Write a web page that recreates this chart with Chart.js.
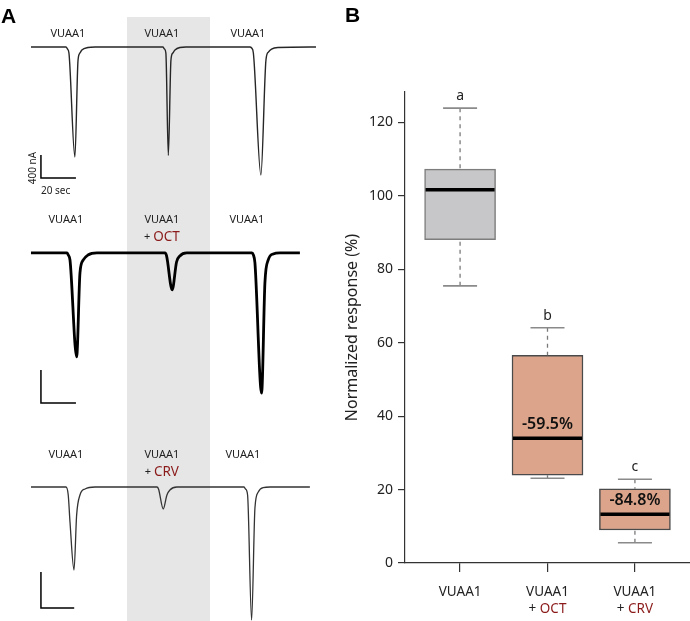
<!DOCTYPE html>
<html lang="en">
<head>
  <meta charset="UTF-8" />
  <title>VUAA1 responses with OCT and CRV</title>
  <script src="https://cdn.jsdelivr.net/npm/chart.js@4"></script>
  <style>
    body { margin: 0; background: #fff; font-family: 'Noto Sans', sans-serif; }
    #fig { position: relative; width: 690px; height: 621px; overflow: hidden; }
    #fig canvas { position: absolute; }
    .panel-letter { position: absolute; font: bold 21px 'Liberation Sans', Arial, sans-serif; color: #000; line-height: 1; }
  </style>
</head>
<body>
  <div id="fig">
    <!-- A: example recordings, one canvas per row -->
    <canvas id="rowVuaa" width="330" height="200" style="left:0px;top:0px"></canvas>
    <canvas id="rowOct" width="330" height="210" style="left:0px;top:200px"></canvas>
    <canvas id="rowCrv" width="330" height="211" style="left:0px;top:410px"></canvas>
    <!-- B: boxplot -->
    <canvas id="boxes" width="360" height="621" style="left:330px;top:0px"></canvas>
    <div class="panel-letter" style="left:1px;top:5px">A</div>
    <div class="panel-letter" style="left:345px;top:4px">B</div>
  </div>

  <script>
    const FONT = "'Noto Sans', sans-serif";
    const DARK_RED = '#8b1a1a';

    // ---- panel A data: time (s) vs current (nA), relative to baseline ----
    const traceVuaa = [
      [0, 0], [20.0, 0], [20.9, -35], [21.7, -104], [25.1, -1914], [26.9, -226], [28.0, -104], [29.1, -52], [32.6, -9], [36.6, 0],
      [75.4, 0], [76.3, -35], [77.1, -104], [78.5, -1888], [80.0, -226], [81.1, -104], [82.3, -52], [85.1, -9], [88.6, 0],
      [125.1, 0], [126.1, -17], [127.1, -104], [131.4, -2227], [134.3, -226], [135.7, -87], [137.5, -35], [141.1, -9], [162.9, 0]
    ];
    const traceOct = [
      [0, 0], [20.6, 0], [21.3, -24], [22.3, -85], [26.1, -1260], [28.0, -242], [29.9, -85], [32.6, -24], [37.7, 0],
      [76.6, 0], [77.5, -36], [80.7, -448], [83.2, -109], [85.1, -36], [89.0, 0],
      [126.3, 0], [127.1, -24], [128.0, -121], [131.8, -1697], [133.7, -364], [135.6, -85], [138.4, -12], [142.3, 0], [153.7, 0]
    ];
    const traceCrv = [
      [0, 0], [20.0, 0], [21.3, -89], [22.3, -389], [24.6, -922], [26.1, -311], [28.0, -89], [30.9, -22], [36.6, 0],
      [72.0, 0], [72.9, -22], [75.6, -244], [77.7, -89], [79.4, -33], [83.4, 0],
      [121.7, 0], [122.6, -22], [123.8, -89], [126.1, -1480], [128.0, -233], [129.9, -56], [132.7, -6], [136.6, 0], [159.4, 0]
    ];
    const shadeSec = [54.9, 102.3];
    const scaleBarSec = [20, 20, 19];
    const scaleBarNA = [400, 400, 400];

    // ---- panel B data ----
    const groups = ['VUAA1', 'VUAA1', 'VUAA1'];
    const addedOdor = ['', 'OCT', 'CRV'];
    const whiskerLow = [75.5, 23.1, 5.5];
    const q1 = [88.1, 23.9, 9.0];
    const medians = [101.7, 34.0, 13.3];
    const q3 = [107.3, 56.6, 20.2];
    const whiskerHigh = [123.9, 64.1, 22.8];
    const sigLetters = ['a', 'b', 'c'];
    const changeLabels = ['', '-59.5%', '-84.8%'];

    // layout for the three trace rows (pixel scales picked to match the figure)
    const rows = [
      { id: 'rowVuaa', data: traceVuaa, yMin: -2662, yMax: 818, color: '#262626', width: 1.4, shadeTop: 522,
        bar: { t: 5.7, i: -2279 }, labelY: 226, labelT: [21.1, 74.8, 124.0], odor: null, barText: true },
      { id: 'rowOct', data: traceOct, yMin: -1903, yMax: 642, color: '#000', width: 2.8, shadeTop: null,
        bar: { t: 5.7, i: -1818 }, labelY: 400, labelT: [20.0, 74.8, 123.4], odor: { text: 'OCT', y: 194 }, barText: false },
      { id: 'rowCrv', data: traceCrv, yMin: -1489, yMax: 856, color: '#333', width: 1.3, shadeTop: null,
        bar: { t: 5.7, i: -1344 }, labelY: 356, labelT: [20.0, 74.8, 121.1], odor: { text: 'CRV', y: 167 }, barText: false }
    ];

    const traceDecor = {
      id: 'traceDecor',
      beforeDatasetsDraw(chart, args, opts) {
        const { ctx, chartArea, scales: { x, y } } = chart;
        const left = x.getPixelForValue(shadeSec[0]);
        const right = x.getPixelForValue(shadeSec[1]);
        const top = opts.shadeTop == null ? chartArea.top : y.getPixelForValue(opts.shadeTop);
        ctx.save();
        ctx.fillStyle = '#e6e6e6';
        ctx.fillRect(left, top, right - left, chartArea.bottom - top);
        ctx.restore();
      },
      afterDatasetsDraw(chart, args, opts) {
        const { ctx, scales: { x, y } } = chart;
        ctx.save();
        ctx.fillStyle = '#222';
        ctx.textAlign = 'center';
        ctx.textBaseline = 'middle';
        ctx.font = `11px ${FONT}`;
        opts.labelT.forEach(t => ctx.fillText('VUAA1', x.getPixelForValue(t), y.getPixelForValue(opts.labelY)));
        if (opts.odor) {
          const cx = x.getPixelForValue(opts.labelT[1]);
          const cy = y.getPixelForValue(opts.odor.y);
          ctx.font = `11px ${FONT}`;
          const plusW = ctx.measureText('+ ').width;
          ctx.font = `13.5px ${FONT}`;
          const odorW = ctx.measureText(opts.odor.text).width;
          let sx = cx - (plusW + odorW) / 2;
          ctx.textAlign = 'left';
          ctx.font = `11px ${FONT}`;
          ctx.fillStyle = '#222';
          ctx.fillText('+ ', sx, cy);
          ctx.font = `13.5px ${FONT}`;
          ctx.fillStyle = DARK_RED;
          ctx.fillText(opts.odor.text, sx + plusW, cy);
        }
        if (opts.barText) {
          const bx = x.getPixelForValue(opts.bar.t);
          const by = y.getPixelForValue(opts.bar.i);
          ctx.fillStyle = '#222';
          ctx.font = `10px ${FONT}`;
          ctx.textAlign = 'left';
          ctx.fillText('20 sec', bx, by + 13);
          ctx.translate(bx - 8, by - 10);
          ctx.rotate(-Math.PI / 2);
          ctx.textAlign = 'center';
          ctx.fillText('400 nA', 0, 0);
        }
        ctx.restore();
      }
    };

    rows.forEach((row, r) => {
      const b = row.bar;
      new Chart(document.getElementById(row.id), {
        type: 'line',
        data: {
          datasets: [
            {
              data: row.data.map(([t, i]) => ({ x: t, y: i })),
              borderColor: row.color,
              borderWidth: row.width,
              pointRadius: 0,
              cubicInterpolationMode: 'monotone',
              fill: false
            },
            {
              data: [
                { x: b.t, y: b.i + scaleBarNA[r] },
                { x: b.t, y: b.i },
                { x: b.t + scaleBarSec[r], y: b.i }
              ],
              borderColor: '#000',
              borderWidth: 1.5,
              pointRadius: 0,
              tension: 0,
              fill: false
            }
          ]
        },
        options: {
          responsive: false,
          animation: false,
          layout: { padding: 0 },
          plugins: {
            legend: { display: false },
            tooltip: { enabled: false },
            traceDecor: row
          },
          scales: {
            x: { type: 'linear', min: -17.7, max: 170.9, display: false },
            y: { type: 'linear', min: row.yMin, max: row.yMax, display: false }
          }
        },
        plugins: [traceDecor]
      });
    });

    // ---- panel B ----
    const BOX_W = 71;
    const CAP_W = 34;

    const boxDecor = {
      id: 'boxDecor',
      afterDatasetsDraw(chart) {
        const { ctx, chartArea, scales: { x, y } } = chart;
        ctx.save();
        groups.forEach((g, i) => {
          const cx = x.getPixelForValue(i);
          const yHi = y.getPixelForValue(whiskerHigh[i]);
          const yLo = y.getPixelForValue(whiskerLow[i]);

          ctx.strokeStyle = '#7a7a7a';
          ctx.lineWidth = 1.3;
          ctx.setLineDash([4, 4]);
          ctx.beginPath();
          ctx.moveTo(cx, yHi);
          ctx.lineTo(cx, y.getPixelForValue(q3[i]));
          ctx.moveTo(cx, yLo);
          ctx.lineTo(cx, y.getPixelForValue(q1[i]));
          ctx.stroke();
          ctx.setLineDash([]);

          ctx.strokeStyle = '#8a8a8a';
          ctx.lineWidth = 1.6;
          ctx.beginPath();
          ctx.moveTo(cx - CAP_W / 2, yHi);
          ctx.lineTo(cx + CAP_W / 2, yHi);
          ctx.moveTo(cx - CAP_W / 2, yLo);
          ctx.lineTo(cx + CAP_W / 2, yLo);
          ctx.stroke();

          const ym = y.getPixelForValue(medians[i]);
          ctx.strokeStyle = '#000';
          ctx.lineWidth = 3.5;
          ctx.beginPath();
          ctx.moveTo(cx - BOX_W / 2 + 1, ym);
          ctx.lineTo(cx + BOX_W / 2 - 1, ym);
          ctx.stroke();

          ctx.fillStyle = '#222';
          ctx.font = `14px ${FONT}`;
          ctx.textAlign = 'center';
          ctx.textBaseline = 'alphabetic';
          ctx.fillText(sigLetters[i], cx, yHi - 8);

          if (changeLabels[i]) {
            ctx.fillStyle = '#111';
            ctx.font = `600 16px ${FONT}`;
            ctx.textBaseline = 'middle';
            ctx.fillText(changeLabels[i], cx, ym - 14);
          }
        });

        // category labels, second line with the added odorant in red
        ctx.textBaseline = 'middle';
        groups.forEach((g, i) => {
          const cx = x.getPixelForValue(i);
          ctx.font = `13.5px ${FONT}`;
          ctx.fillStyle = '#222';
          ctx.textAlign = 'center';
          ctx.fillText(g, cx, chartArea.bottom + 29);
          if (addedOdor[i]) {
            const plusW = ctx.measureText('+ ').width;
            const odorW = ctx.measureText(addedOdor[i]).width;
            const sx = cx - (plusW + odorW) / 2;
            ctx.textAlign = 'left';
            ctx.fillText('+ ', sx, chartArea.bottom + 46);
            ctx.fillStyle = DARK_RED;
            ctx.fillText(addedOdor[i], sx + plusW, chartArea.bottom + 46);
          }
        });
        ctx.restore();
      }
    };

    new Chart(document.getElementById('boxes'), {
      type: 'bar',
      data: {
        datasets: [{
          data: groups.map((g, i) => ({ x: i, y: [q1[i], q3[i]] })),
          backgroundColor: ['#c7c7c9', '#dca58b', '#dca58b'],
          borderColor: ['#7d7d7d', '#4a4a4a', '#4a4a4a'],
          borderWidth: 1.5,
          borderSkipped: false,
          barThickness: BOX_W
        }]
      },
      options: {
        responsive: false,
        animation: false,
        layout: { padding: { top: 92, left: 0, right: 0, bottom: 0 } },
        plugins: { legend: { display: false }, tooltip: { enabled: false } },
        scales: {
          x: {
            type: 'linear',
            min: -0.63,
            max: 2.63,
            offset: false,
            afterBuildTicks: s => { s.ticks = groups.map((g, i) => ({ value: i })); },
            afterFit: s => { s.height = 58; },
            ticks: { display: false },
            grid: { offset: false, drawOnChartArea: false, tickLength: 9, color: '#333', lineWidth: 1.2 },
            border: { color: '#333', width: 1.2 }
          },
          y: {
            min: 0,
            max: 128.3,
            afterFit: s => { s.width = 75; },
            ticks: { stepSize: 20, includeBounds: false, color: '#222', font: { family: FONT, size: 14 }, padding: 5 },
            grid: { drawOnChartArea: false, tickLength: 7, color: '#333', lineWidth: 1.2 },
            border: { color: '#333', width: 1.2 },
            title: {
              display: true,
              text: 'Normalized response (%)',
              color: '#222',
              font: { family: FONT, size: 16 },
              padding: { top: 13, bottom: 0 }
            }
          }
        }
      },
      plugins: [boxDecor]
    });
  </script>
</body>
</html>
